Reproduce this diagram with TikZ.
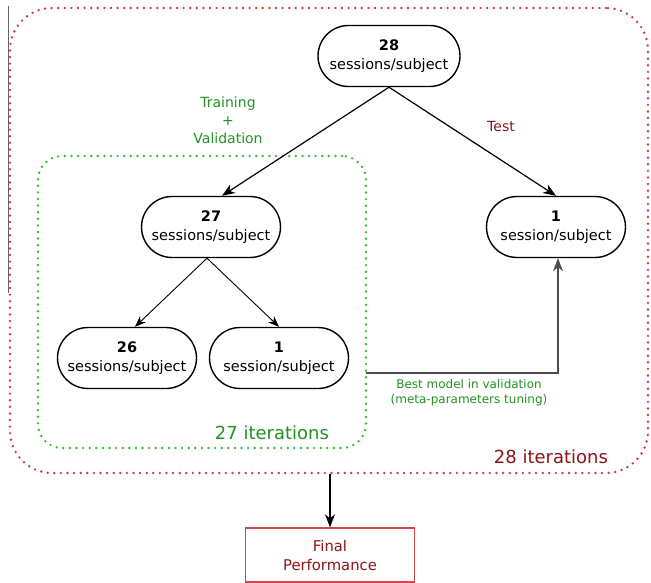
\documentclass[tikz,border=0pt]{standalone}
\usepackage{fontspec}
\setmainfont{DejaVu Sans}
\usetikzlibrary{shapes.misc,arrows.meta}
\definecolor{frred}{RGB}{205,60,70}
\definecolor{frgreen}{RGB}{50,190,50}
\definecolor{txgreen}{RGB}{35,145,35}
\definecolor{txred}{RGB}{140,20,25}
\definecolor{boxred}{RGB}{205,70,75}
\tikzset{
  sess/.style={draw, line width=1.4pt, rounded rectangle, minimum width=139pt, minimum height=61pt,
    inner sep=0pt, align=center, font=\fontsize{14.5}{19}\selectfont},
  dotframe/.style={rectangle, inner sep=0pt, line width=2.7pt, line cap=round, dash pattern=on 0pt off 6.6pt},
  arr/.style={-{Stealth[length=13pt,width=10pt,inset=4pt]}, line width=1.2pt},
  arrthin/.style={-{Stealth[length=11pt,width=8.5pt,inset=3.5pt]}, line width=0.9pt},
}
\begin{document}
\begin{tikzpicture}[x=1pt,y=-1pt]
\useasboundingbox (0,0) rectangle (651,583);
% stray gray line
\draw[gray!80!black, line width=1.3pt] (8.5,6) -- (8.5,293);
% frames
\node[dotframe, draw=frred, rounded corners=42pt, minimum width=638pt, minimum height=465pt] (outer) at (329,240.5) {};
\node[dotframe, draw=frgreen, rounded corners=24pt, minimum width=328pt, minimum height=292pt] (green) at (202,302) {};
% nodes
\node[sess, minimum width=142pt] (top) at (389,56) {\textbf{28}\\sessions/subject};
\node[sess] (n27) at (211,227) {\textbf{27}\\sessions/subject};
\node[sess] (n1r) at (556,227) {\textbf{1}\\session/subject};
\node[sess] (n26) at (127,358) {\textbf{26}\\sessions/subject};
\node[sess] (n1m) at (279,358) {\textbf{1}\\session/subject};
\node[draw=boxred, line width=1.4pt, minimum width=169pt, minimum height=54pt, inner sep=0pt,
  align=center, text=txred, font=\fontsize{14.8}{19}\selectfont] (final) at (330,555) {Final\\Performance};
% labels
\node[text=txgreen, align=center, font=\fontsize{14}{18}\selectfont] (lbtv) at (228,120) {Training\\+\\Validation};
\node[text=txred, font=\fontsize{14}{18}\selectfont] (lbtest) at (501,126) {Test};
\node[text=txgreen, font=\fontsize{18}{22}\selectfont] (lb27) at (272,433) {27 iterations};
\node[text=txred, font=\fontsize{18}{22}\selectfont] (lb28) at (551,457) {28 iterations};
\node[text=txgreen, align=center, font=\fontsize{12}{15}\selectfont] (lbbest) at (469,393) {Best model in validation\\(meta-parameters tuning)};
% connectors
\draw[arr] (top.south) -- ([xshift=11pt]n27.north);
\draw[arr] (top.south) -- (n1r.north);
\draw[arrthin] ([xshift=-4pt]n27.south) -- ([xshift=8pt]n26.north);
\draw[arrthin] ([xshift=-4pt]n27.south) -- (n1m.north);
\coordinate (bm) at (366,373);
\draw[line width=1.4pt, draw=black!70, -{Stealth[length=13pt,width=10pt,inset=4pt]}] (bm) -| ([xshift=2pt]n1r.south);
\draw[arr] (outer.south -| final.north) -- (final.north);
\end{tikzpicture}
\end{document}
